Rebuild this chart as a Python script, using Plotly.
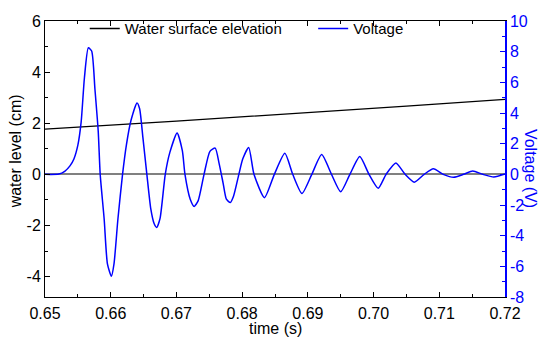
import plotly.graph_objects as go

# Water surface elevation (cm), left axis
t_water = [0.650, 0.655, 0.660, 0.665, 0.670, 0.675, 0.680, 0.685, 0.690,
           0.695, 0.700, 0.705, 0.710, 0.715, 0.720]
water = [1.77, 1.84, 1.92, 2.00, 2.08, 2.16, 2.24, 2.33, 2.41,
         2.50, 2.59, 2.67, 2.76, 2.84, 2.93]

# Voltage (V), right axis
t_volt = [0.6500, 0.6521, 0.6530, 0.6538, 0.6544, 0.6550, 0.6555, 0.6560, 0.6566, 0.6571,
          0.6576, 0.6581, 0.6584, 0.6590, 0.6595, 0.6601, 0.6605, 0.6611, 0.6618,
          0.6624, 0.6631, 0.6640, 0.6644, 0.6649, 0.6655, 0.6661, 0.6666, 0.6670,
          0.6675, 0.6683, 0.6690, 0.6701, 0.6709, 0.6713, 0.6721, 0.6727, 0.6733,
          0.6742, 0.6751, 0.6759, 0.6765, 0.6771, 0.6776, 0.6782, 0.6787, 0.6795,
          0.6801, 0.6810, 0.6818, 0.6834, 0.6849, 0.6865, 0.6877, 0.6891, 0.6906,
          0.6921, 0.6936, 0.6950, 0.6964, 0.6979, 0.6993, 0.7007, 0.7019, 0.7034,
          0.7048, 0.7062, 0.7077, 0.7091, 0.7106, 0.7122, 0.7137, 0.7151, 0.7166,
          0.7183, 0.7200]
volt = [0.00, 0.02, 0.20, 0.55, 1.00, 1.90, 3.40, 6.30, 8.25, 8.04,
        5.55, 2.80, 0.00, -2.90, -5.84, -6.65, -5.84, -2.90, 0.00,
        1.96, 3.54, 4.66, 4.28, 2.39, 0.00, -2.26, -3.21, -3.46,
        -2.89, 0.00, 1.43, 2.70, 1.54, 0.00, -1.62, -2.09, -1.73,
        0.00, 1.50, 1.71, 0.70, -0.57, -1.62, -1.84, -1.41, 0.00,
        1.01, 1.75, 0.00, -1.52, 0.00, 1.37, 0.00, -1.25, 0.00,
        1.29, 0.00, -1.14, 0.00, 1.16, 0.00, -0.91, 0.00, 0.74,
        0.00, -0.51, 0.00, 0.36, 0.00, -0.19, 0.00, 0.21, 0.00,
        -0.17, 0.02]

# Tick labels (hyphen minus as in the reference)
y1_ticks = [-4, -2, 0, 2, 4, 6]
y1_labels = ["-4", "-2", "0", "2", "4", "6"]
y2_ticks = [-8, -6, -4, -2, 0, 2, 4, 6, 8, 10]
y2_labels = ["-8", "-6", "-4", "-2", "0", "2", "4", "6", "8", "10"]

FONT = "Liberation Sans, Arial, sans-serif"
BLUE = "#0000ff"

fig = go.Figure()
fig.add_trace(go.Scatter(x=t_water, y=water, mode="lines", name="Water surface elevation",
                         line=dict(color="black", width=1.3), yaxis="y", legend="legend"))
fig.add_trace(go.Scatter(x=t_volt, y=volt, mode="lines", name="Voltage",
                         line=dict(color=BLUE, width=1.5, shape="spline", smoothing=0.6),
                         yaxis="y2", legend="legend2"))

fig.update_layout(
    width=540, height=340,
    margin=dict(l=45, r=32, t=13, b=43),
    plot_bgcolor="white", paper_bgcolor="white",
    font=dict(family=FONT, size=16, color="black"),
    xaxis=dict(range=[0.65, 0.72], dtick=0.01, tick0=0.65, tickformat=".2f",
               ticks="inside", ticklen=5, tickcolor="black", showline=True,
               linecolor="black", linewidth=1, mirror="ticks", showgrid=False,
               zeroline=False, minor=dict(dtick=0.005, ticks="inside", ticklen=3,
                                          tickcolor="black"),
               ticklabelstandoff=2,
               tickfont=dict(size=16)),
    yaxis=dict(range=[-4.8, 6], tickmode="array", tickvals=y1_ticks, ticktext=y1_labels,
               ticks="inside", ticklen=5,
               tickcolor="black", showline=True, linecolor="black", linewidth=1,
               showgrid=False, zeroline=True, zerolinecolor="#808080", zerolinewidth=1.5,
               minor=dict(dtick=1, tick0=0, ticks="inside", ticklen=3, tickcolor="black"),
               tickfont=dict(size=16)),
    yaxis2=dict(range=[-8, 10], tickmode="array", tickvals=y2_ticks, ticktext=y2_labels,
                overlaying="y", side="right",
                ticks="inside", ticklen=5, tickcolor=BLUE, showline=True,
                linecolor=BLUE, linewidth=1.5, showgrid=False, zeroline=False,
                minor=dict(dtick=1, tick0=0, ticks="inside", ticklen=3, tickcolor=BLUE),
                tickfont=dict(size=16, color=BLUE)),
    legend=dict(x=0.0864, y=0.972, xanchor="left", yanchor="middle",
                bgcolor="rgba(0,0,0,0)", borderwidth=0, font=dict(size=15)),
    legend2=dict(x=0.583, y=0.972, xanchor="left", yanchor="middle",
                 bgcolor="rgba(0,0,0,0)", borderwidth=0, font=dict(size=15)),
    showlegend=True,
    annotations=[
        dict(text="time (s)", xref="paper", yref="paper", x=0.5, y=-0.113,
             xanchor="center", yanchor="middle", showarrow=False, font=dict(size=16)),
        dict(text="water level (cm)", xref="paper", yref="paper", x=-0.065, y=0.528,
             xanchor="center", yanchor="middle", textangle=-90, showarrow=False,
             font=dict(size=16)),
        dict(text="Voltage (V)", xref="paper", yref="paper", x=1.056, y=0.465,
             xanchor="center", yanchor="middle", textangle=90, showarrow=False,
             font=dict(size=16, color=BLUE)),
    ],
)

fig.write_html("out.html")
